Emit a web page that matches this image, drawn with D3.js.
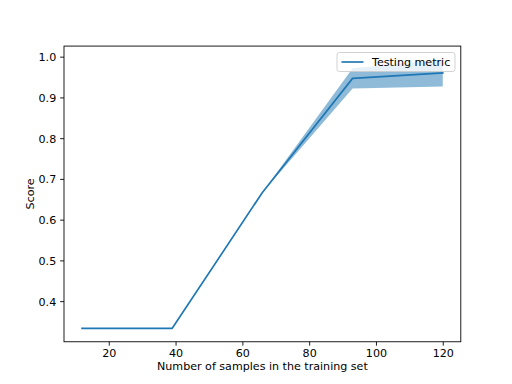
<!DOCTYPE html>
<html>
<head>
<meta charset="utf-8">
<script src="https://cdn.jsdelivr.net/npm/d3@7"></script>
<style>
html,body{margin:0;padding:0;background:#fff;}
svg{display:block;font-family:"DejaVu Sans",sans-serif;}
</style>
</head>
<body>
<svg id="chart" width="512" height="384"></svg>
<script>
const trainSizes = [12, 39, 66, 93, 120];
const meanScores = [0.3333, 0.3333, 0.6667, 0.9467, 0.96];
const stdScores = [0.0, 0.0, 0.0, 0.025, 0.033];
const xTicks = [20, 40, 60, 80, 100, 120];
const yTicks = [0.4, 0.5, 0.6, 0.7, 0.8, 0.9, 1.0];
const seriesName = "Testing metric";

const W = 512, H = 384;
const L = 64, R = 460.8, T = 46.08, B = 341.76;
const svg = d3.select("#chart");

const xmin = d3.min(trainSizes), xmax = d3.max(trainSizes);
const xm = (xmax - xmin) * 0.05;
const lo = d3.min(meanScores.map((m, i) => m - stdScores[i]));
const hi = d3.max(meanScores.map((m, i) => m + stdScores[i]));
const ym = (hi - lo) * 0.05;
const x = d3.scaleLinear().domain([xmin - xm, xmax + xm]).range([L, R]);
const y = d3.scaleLinear().domain([lo - ym, hi + ym]).range([B, T]);

const data = trainSizes.map((s, i) => ({s, m: meanScores[i], sd: stdScores[i]}));

svg.append("path").datum(data)
  .attr("fill", "#1f77b4").attr("fill-opacity", 0.5)
  .attr("d", d3.area().x(d => x(d.s)).y0(d => y(d.m - d.sd)).y1(d => y(d.m + d.sd)));

svg.append("path").datum(data)
  .attr("fill", "none").attr("stroke", "#1f77b4").attr("stroke-width", 1.67)
  .attr("stroke-linejoin", "round").attr("stroke-linecap", "square")
  .attr("d", d3.line().x(d => x(d.s)).y(d => y(d.m)));

// axes
const xAxis = d3.axisBottom(x).tickValues(xTicks).tickSize(3.9).tickPadding(3.9).tickFormat(d3.format("d"));
const yAxis = d3.axisLeft(y).tickValues(yTicks).tickSize(3.9).tickPadding(3.9).tickFormat(d3.format(".1f"));
const gx = svg.append("g").attr("transform", `translate(0,${B})`).call(xAxis);
const gy = svg.append("g").attr("transform", `translate(${L},0)`).call(yAxis);
[gx, gy].forEach(g => {
  g.select(".domain").remove();
  g.selectAll(".tick line").attr("stroke", "#000").attr("stroke-width", 0.89);
  g.selectAll(".tick text").attr("fill", "#000").style("font-size", "11.1px").style("font-family", "DejaVu Sans");
});
gy.selectAll(".tick text").attr("dy", "0.36em");

// spines
svg.append("rect").attr("x", L).attr("y", T).attr("width", R - L).attr("height", B - T)
  .attr("fill", "none").attr("stroke", "#000").attr("stroke-width", 0.89);

// labels
svg.append("text").attr("x", (L + R) / 2).attr("y", 369.5).attr("text-anchor", "middle")
  .style("font-size", "11.1px").text("Number of samples in the training set");
svg.append("text").attr("transform", `translate(33.5,${(T + B) / 2}) rotate(-90)`).attr("text-anchor", "middle")
  .style("font-size", "11.1px").text("Score");

// legend
const lg = svg.append("g");
const lx = 337, ly = 52.5, lw = 118, lh = 19;
lg.append("rect").attr("x", lx).attr("y", ly).attr("width", lw).attr("height", lh)
  .attr("rx", 2.5).attr("fill", "#fff").attr("fill-opacity", 0.8).attr("stroke", "#cccccc").attr("stroke-width", 0.89);
lg.append("line").attr("x1", lx + 4.5).attr("x2", lx + 26.5).attr("y1", ly + lh / 2).attr("y2", ly + lh / 2)
  .attr("stroke", "#1f77b4").attr("stroke-width", 1.67);
lg.append("text").attr("x", lx + 35).attr("y", ly + lh / 2).attr("dy", "0.36em")
  .style("font-size", "11.1px").text(seriesName);
</script>
</body>
</html>
